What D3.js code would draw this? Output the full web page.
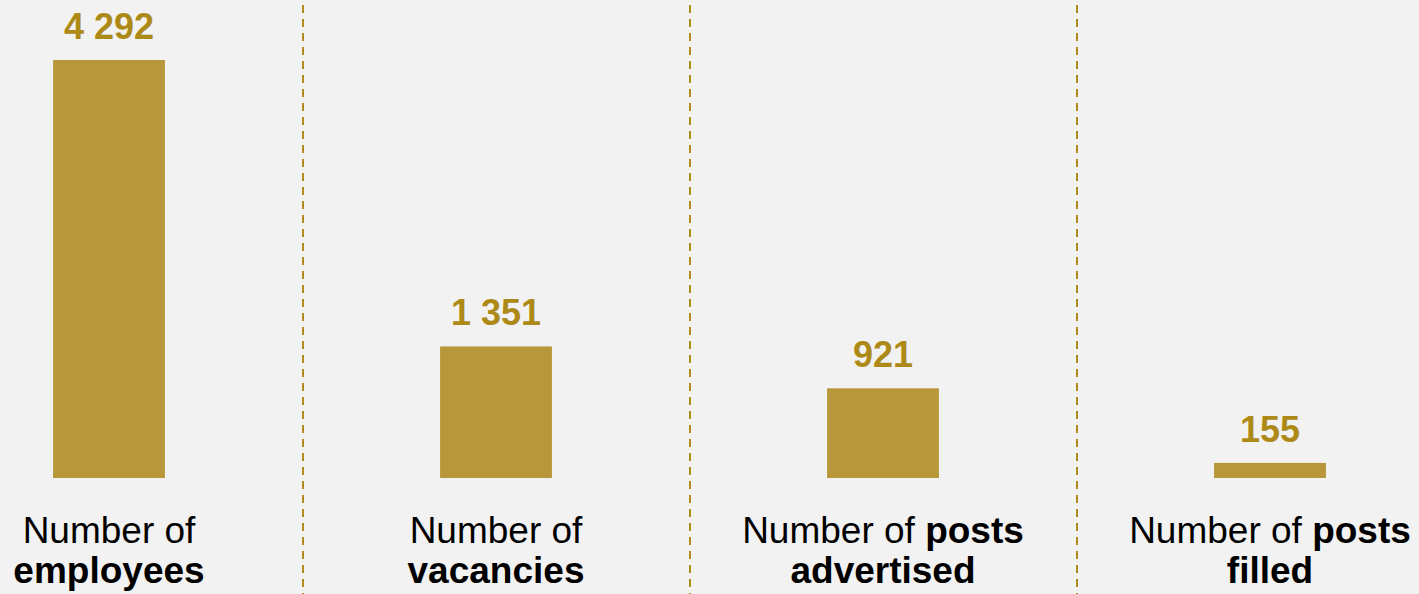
<!DOCTYPE html>
<html>
<head>
<meta charset="utf-8">
<script src="https://cdn.jsdelivr.net/npm/d3@7/dist/d3.min.js"></script>
<style>
  html, body { margin: 0; padding: 0; background: #f2f2f2; }
  svg { display: block; }
  text { font-family: "Liberation Sans", Arial, sans-serif; }
</style>
</head>
<body>
<svg id="chart" width="1419" height="594"></svg>
<script>
const categories = ["employees", "vacancies", "posts advertised", "posts filled"];
const values = [4292, 1351, 921, 155];
const valueLabels = ["4 292", "1 351", "921", "155"];
// label lines: [normal part, bold part] per line
const labelLines = [
  [["Number of", ""], ["", "employees"]],
  [["Number of", ""], ["", "vacancies"]],
  [["Number of ", "posts"], ["", "advertised"]],
  [["Number of ", "posts"], ["", "filled"]]
];

const W = 1419, H = 594;
const svg = d3.select("#chart");
svg.append("rect").attr("width", W).attr("height", H).attr("fill", "#f2f2f2");

const baseline = 478, topY = 60;
const x = d3.scaleBand().domain(categories).range([-84.5, 1463.5])
  .paddingInner(0.711).paddingOuter(0.3555);
const y = d3.scaleLinear().domain([0, d3.max(values)]).range([baseline, topY]);

// dividers
const step = x.step();
const dividers = categories.slice(1).map(c => Math.round(x(c) - (step - x.bandwidth()) / 2));
svg.selectAll("line.div").data(dividers).join("line")
  .attr("x1", d => d).attr("x2", d => d)
  .attr("y1", 5).attr("y2", H)
  .attr("stroke", "#b08b1c").attr("stroke-width", 2)
  .attr("stroke-dasharray", "8,6");

// bars
svg.selectAll("rect.bar").data(values).join("rect")
  .attr("x", (d, i) => x(categories[i]))
  .attr("width", x.bandwidth())
  .attr("y", d => y(d))
  .attr("height", d => baseline - y(d))
  .attr("fill", "#b8973b");

// value labels
svg.selectAll("text.val").data(values).join("text")
  .attr("x", (d, i) => x(categories[i]) + x.bandwidth() / 2)
  .attr("y", d => y(d) - 21)
  .attr("text-anchor", "middle")
  .attr("font-size", 36).attr("font-weight", "bold")
  .attr("fill", "#ad8a17")
  .text((d, i) => valueLabels[i]);

// category labels
categories.forEach((c, i) => {
  const cx = x(c) + x.bandwidth() / 2;
  const t = svg.append("text").attr("text-anchor", "middle")
    .attr("font-size", 37).attr("fill", "#000");
  labelLines[i].forEach((ln, j) => {
    const line = t.append("tspan").attr("x", cx).attr("y", 542.5 + j * 40.5);
    if (ln[0]) line.append("tspan").text(ln[0]);
    if (ln[1]) line.append("tspan").attr("font-weight", "bold").text(ln[1]);
  });
});
</script>
</body>
</html>
